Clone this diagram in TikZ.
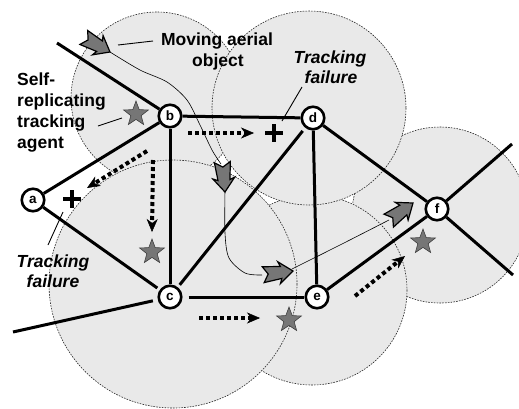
\documentclass[tikz,border=0pt]{standalone}
\usepackage{fontspec}
\setmainfont{Liberation Sans}
\usetikzlibrary{shapes.geometric,arrows.meta}
\definecolor{zonefill}{HTML}{E9E9E9}
\definecolor{markgray}{HTML}{767676}

\tikzset{
  zone/.style={fill=zonefill, draw=black!85, dash pattern=on 1.6pt off 1.2pt, line width=0.6pt},
  link/.style={line width=3pt},
  site/.style={circle, draw, line width=2.6pt, fill=white, minimum size=22.5pt, inner sep=0pt,
    font=\bfseries\fontsize{13.5}{15}\selectfont},
  hop/.style={line width=4pt, dash pattern=on 4pt off 3pt,
    -{Stealth[length=13pt,width=11pt,inset=4pt,line width=0.5pt]}},
  agent/.style={star, star points=5, star point ratio=2.4, minimum size=26pt, inner sep=0pt,
    fill=markgray, draw=black!75, line width=0.6pt},
  failmark/.style={line width=4.5pt},
  lbl/.style={font=\bfseries\fontsize{17.5}{21}\selectfont, inner sep=0pt, anchor=base},
  ilbl/.style={lbl, font=\bfseries\itshape\fontsize{17.5}{21}\selectfont},
  leader/.style={line width=0.9pt},
  track/.style={line width=0.6pt},
  flyer/.pic={\filldraw[fill=markgray, draw=black, line width=1.2pt, line join=miter]
    (0,0) -- (-14,-11) -- (-12,-6) -- (-30,-8) -- (-25,0) -- (-30,8) -- (-12,6) -- (-14,11) -- cycle;}
}

\begin{document}
\begin{tikzpicture}[x=1pt,y=-1pt]
\useasboundingbox (0,0) rectangle (519,408);
\fill[white] (0,0) rectangle (519,408);

% coverage zones, later ones overlapping earlier ones
\filldraw[zone] (157,98) circle (86);
\filldraw[zone] (440,215) circle (88);
\filldraw[zone] (312,290) circle (95);
\filldraw[zone] (309,108) circle (97);
\filldraw[zone] (173,284) circle (124);

% flight track of the object
\draw[track] plot[smooth] coordinates {(110,52) (140,70) (167,82) (187,100) (200,125) (212,150) (221,164)};
\draw[track] plot[smooth] coordinates {(225,190) (225,233) (229,258) (245,273) (262,275)};
\draw[track] plot[smooth] coordinates {(292,269) (340,245) (389,220)};

% network sites
\node[site] (a) at (33,200) {a};
\node[site] (b) at (170,116) {b};
\node[site] (c) at (170,297) {c};
\node[site] (d) at (313,118) {d};
\node[site] (e) at (317,297) {e};
\node[site] (f) at (437,209) {f};
\coordinate (nw) at (57,43);
\coordinate (w) at (13,332);
\coordinate (ne) at (512,144);
\coordinate (se) at (513,275);

% links
\draw[link] (nw) -- (b);
\draw[link] (a) -- (b);
\draw[link, shorten >=3pt] (a) -- (c);
\draw[link] (b) -- (c);
\draw[link] (b) -- (d);
\draw[link, shorten <=3pt, shorten >=4pt] (c) -- (d);
\draw[link, shorten <=6pt] (c) -- (e);
\draw[link, shorten >=5pt] (w) -- (c);
\draw[link] (d) -- (e);
\draw[link] (d) -- (f);
\draw[link] (e) -- (f);
\draw[link] (f) -- (ne);
\draw[link] (f) -- (se);

% agent hand-offs
\coordinate (h1s) at (188,133); \coordinate (h1t) at (254,133);
\coordinate (h2s) at (153,160); \coordinate (h2t) at (152,232);
\coordinate (h3s) at (147,151); \coordinate (h3t) at (87,188);
\coordinate (h4s) at (199,318); \coordinate (h4t) at (260,318);
\coordinate (h5s) at (355,296); \coordinate (h5t) at (405,256);
\draw[hop] (h1s) -- (h1t);
\draw[hop] (h2s) -- (h2t);
\draw[hop] (h3s) -- (h3t);
\draw[hop] (h4s) -- (h4t);
\draw[hop] (h5s) -- (h5t);

% tracking agents
\node[agent] (s1) at (136,114) {};
\node[agent] (s2) at (152,252) {};
\node[agent] (s3) at (289,320) {};
\node[agent] (s4) at (423,242) {};

% tracking failures
\draw[failmark] (63,199) -- (81,199) (72,190) -- (72,208);
\draw[failmark] (265,133) -- (283,133) (274,124) -- (274,142);

% moving aerial object
\pic[rotate=-29] at (110,52) {flyer};
\pic[rotate=-85] at (225,192) {flyer};
\pic[rotate=7] at (293,271) {flyer};
\pic[rotate=36] at (413,203) {flyer};

% labels
\node[lbl] (mv1) at (217,45) {Moving aerial};
\node[lbl] (mv2) at (218,66) {object};
\draw[leader] (118,45) -- (153,41);

\node[lbl, anchor=base west] (sr1) at (17,85) {Self-};
\node[lbl, anchor=base west] (sr2) at (17,106) {replicating};
\node[lbl, anchor=base west] (sr3) at (17,127) {tracking};
\node[lbl, anchor=base west] (sr4) at (17,148) {agent};
\draw[leader] (98,126) -- (122,118);

\node[ilbl] (tf1) at (330,63) {Tracking};
\node[ilbl] (tf2) at (331,83) {failure};
\draw[leader] (302,87) -- (282,121);

\node[ilbl] (tf3) at (53,267) {Tracking};
\node[ilbl] (tf4) at (53,287) {failure};
\draw[leader] (48,245) -- (63,212);
\end{tikzpicture}
\end{document}
